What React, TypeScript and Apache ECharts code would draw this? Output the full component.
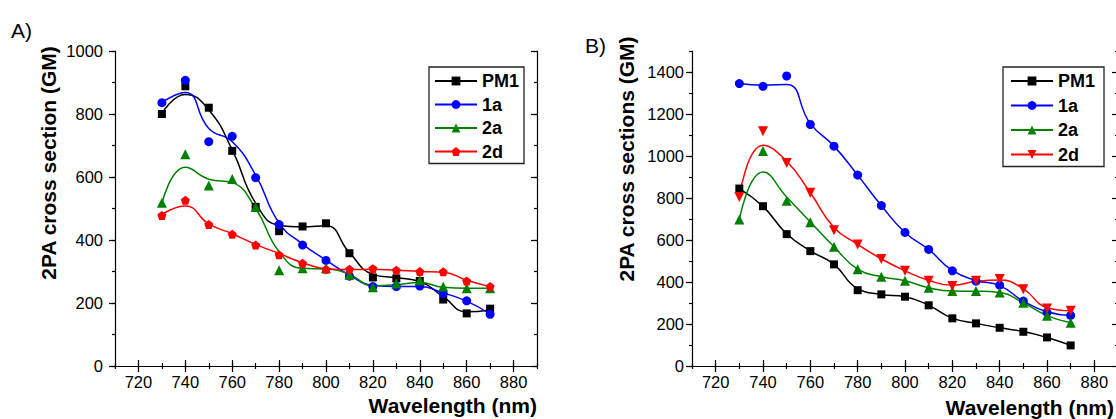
import React, { useEffect, useRef } from 'react';
import * as echarts from 'echarts';

// ---------- data ----------
const WAVELENGTHS = [730, 740, 750, 760, 770, 780, 790, 800, 810, 820, 830, 840, 850, 860, 870];
const X_MAJOR = [720, 740, 760, 780, 800, 820, 840, 860, 880];
const Y_MAJOR_A = [0, 200, 400, 600, 800, 1000];
const Y_MAJOR_B = [0, 200, 400, 600, 800, 1000, 1200, 1400];

// Panel A – measured points
const PM1_A = [800, 888, 820, 683, 505, 428, 443, 453, 358, 281, 278, 270, 211, 167, 182];
const A1_A = [836, 907, 712, 729, 598, 449, 384, 335, 285, 252, 252, 254, 230, 207, 164];
const A2_A = [518, 672, 573, 594, 505, 304, 310, 310, 290, 250, 262, 272, 252, 247, 247];
const D2_A = [478, 526, 449, 418, 384, 353, 326, 307, 307, 309, 304, 300, 299, 270, 252];
// Panel A – fitted curves
const PM1_A_FIT = [802, 862, 813, 686, 517, 447, 442, 445, 360, 291, 280, 268, 220, 172, 178];
const A1_A_FIT = [837, 868, 754, 712, 606, 454, 387, 336, 289, 256, 252, 252, 232, 206, 165];
const A2_A_FIT = [516, 631, 593, 582, 500, 363, 310, 308, 291, 255, 258, 265, 250, 247, 247];
const D2_A_FIT = [481, 508, 451, 420, 386, 357, 328, 309, 306, 307, 304, 300, 298, 272, 252];

// Panel B – measured points
const PM1_B = [845, 761, 628, 547, 484, 361, 341, 330, 289, 227, 203, 182, 163, 136, 98];
const A1_B = [1345, 1332, 1381, 1150, 1047, 909, 764, 636, 555, 453, 404, 385, 309, 255, 241];
const A2_B = [698, 1024, 787, 684, 568, 461, 425, 406, 373, 357, 357, 350, 301, 239, 206];
const D2_B = [805, 1118, 967, 825, 647, 579, 509, 453, 406, 381, 406, 414, 365, 274, 263];
// Panel B – fitted curves
const PM1_B_FIT = [845, 760, 630, 548, 484, 368, 341, 330, 289, 228, 203, 182, 164, 136, 98];
const A1_B_FIT = [1345, 1337, 1341, 1154, 1047, 909, 764, 636, 555, 455, 407, 383, 309, 258, 241];
const A2_B_FIT = [698, 924, 805, 686, 568, 461, 425, 406, 373, 357, 356, 350, 301, 240, 206];
const D2_B_FIT = [805, 1051, 975, 825, 660, 579, 510, 453, 408, 384, 403, 410, 367, 278, 263];

const NAMES = ['PM1', '1a', '2a', '2d'];

// ---------- styling ----------
const FONT = '"Liberation Sans", Arial, Helvetica, sans-serif';
const BLACK = '#000000';
const COLORS = ['#000000', '#0000ff', '#008000', '#ff0000'];
const PENTAGON = 'path://M0,-10 L9.51,-3.09 L5.88,8.09 L-5.88,8.09 L-9.51,-3.09 Z';
const DOWN_TRI = 'path://M0,0 L10,0 L5,8.66 Z';
const SYMBOLS_A = ['rect', 'circle', 'triangle', PENTAGON];
const SYMBOLS_B = ['rect', 'circle', 'triangle', DOWN_TRI];
const SIZES_A = [8, 9, 10, 9];
const SIZES_B = [8, 9, 10, 10];

const pairs = (vals: number[]) => WAVELENGTHS.map((w, i) => [w, vals[i]]);

function xAxesFor(g: number) {
  const base = { type: 'value', gridIndex: g, min: 710, max: 890, splitLine: { show: false } };
  const line = { lineStyle: { color: BLACK, width: 1.2 } };
  const tickStyle = { color: BLACK, width: 1.2 };
  return [
    {
      ...base, position: 'bottom', interval: 10, axisLine: line,
      axisTick: { inside: true, length: 3, lineStyle: tickStyle },
      axisLabel: {
        formatter: (v: number) => (X_MAJOR.indexOf(v) >= 0 ? String(v) : ''),
        color: BLACK, fontSize: 16.5, fontFamily: FONT, margin: 7,
      },
    },
    {
      ...base, position: 'bottom', axisLine: { show: false },
      axisTick: { inside: true, length: 6, customValues: X_MAJOR, lineStyle: tickStyle },
      axisLabel: { show: false },
    },
    {
      ...base, position: 'top', interval: 10, axisLine: line,
      axisTick: { inside: true, length: 3, lineStyle: tickStyle },
      axisLabel: { show: false },
    },
    {
      ...base, position: 'top', axisLine: { show: false },
      axisTick: { inside: true, length: 6, customValues: X_MAJOR, lineStyle: tickStyle },
      axisLabel: { show: false },
    },
  ];
}

function yAxesFor(g: number, max: number, majors: number[], margin: number) {
  const base = { type: 'value', gridIndex: g, min: 0, max, splitLine: { show: false } };
  const line = { lineStyle: { color: BLACK, width: 1.2 } };
  const tickStyle = { color: BLACK, width: 1.2 };
  return [
    {
      ...base, position: 'left', interval: 100, axisLine: line,
      axisTick: { inside: false, length: 3, lineStyle: tickStyle },
      axisLabel: {
        formatter: (v: number) => (majors.indexOf(v) >= 0 ? String(v) : ''),
        color: BLACK, fontSize: 16.5, fontFamily: FONT, margin,
      },
    },
    {
      ...base, position: 'left', axisLine: { show: false },
      axisTick: { inside: false, length: 6, customValues: majors, lineStyle: tickStyle },
      axisLabel: { show: false },
    },
    {
      ...base, position: 'right', interval: 100, axisLine: line,
      axisTick: { inside: true, length: 3, lineStyle: tickStyle },
      axisLabel: { show: false },
    },
    {
      ...base, position: 'right', axisLine: { show: false },
      axisTick: { inside: true, length: 6, customValues: majors, lineStyle: tickStyle },
      axisLabel: { show: false },
    },
  ];
}

function panelSeries(g: number, prefix: string, points: number[][], fits: number[][], symbols: string[], sizes: number[]) {
  const out: any[] = [];
  NAMES.forEach((n, i) => {
    const name = prefix + n;
    out.push({
      type: 'line', name, xAxisIndex: g * 4, yAxisIndex: g * 4,
      data: pairs(fits[i]), smooth: 0.5, symbol: symbols[i], symbolSize: sizes[i], showSymbol: false,
      lineStyle: { color: COLORS[i], width: 1.5 }, itemStyle: { color: COLORS[i] }, z: 2, silent: true,
    });
    out.push({
      type: 'scatter', name, xAxisIndex: g * 4, yAxisIndex: g * 4,
      data: pairs(points[i]), symbol: symbols[i], symbolSize: sizes[i],
      itemStyle: { color: COLORS[i], opacity: 1 }, z: 3, silent: true,
    });
  });
  return out;
}

function legendFor(left: number, top: number, prefix: string, gap: number, padding: number[]) {
  return {
    left, top, orient: 'vertical', itemWidth: 42, itemHeight: 11, itemGap: gap,
    padding, borderColor: '#222', borderWidth: 1.3, backgroundColor: '#fff',
    selectedMode: false,
    textStyle: { fontWeight: 'bold', fontSize: 18, color: BLACK, fontFamily: FONT },
    formatter: (name: string) => name.replace(prefix, ''),
    data: NAMES.map((n) => prefix + n),
  };
}

function text(x: number, y: number, t: string, opts: any = {}) {
  return {
    type: 'text', x, y, rotation: opts.rotation || 0, z: 10,
    style: {
      text: t, fill: BLACK,
      font: `${opts.bold ? 'bold ' : ''}${opts.size || 21}px ${FONT}`,
      align: opts.align || 'left', verticalAlign: 'middle',
      textAlign: opts.align || 'left', textVerticalAlign: 'middle',
    },
  };
}

export default function App() {
  const ref = useRef<HTMLDivElement>(null);
  useEffect(() => {
    if (!ref.current) return;
    const chart = echarts.init(ref.current, undefined, { renderer: 'svg' });
    const option: any = {
      animation: false,
      backgroundColor: '#ffffff',
      grid: [
        { left: 115, top: 51, width: 422, height: 315, containLabel: false, outerBoundsMode: 'none' },
        { left: 692, top: 51, width: 426, height: 315, containLabel: false, outerBoundsMode: 'none' },
      ],
      xAxis: [...xAxesFor(0), ...xAxesFor(1)],
      yAxis: [...yAxesFor(0, 1000, Y_MAJOR_A, 12), ...yAxesFor(1, 1500, Y_MAJOR_B, 8)],
      legend: [
        legendFor(429, 67, 'A:', 5.5, [5, 5, 3, 5]),
        legendFor(1003, 67, 'B:', 6.5, [5, 9, 3, 7]),
      ],
      series: [
        ...panelSeries(0, 'A:', [PM1_A, A1_A, A2_A, D2_A], [PM1_A_FIT, A1_A_FIT, A2_A_FIT, D2_A_FIT], SYMBOLS_A, SIZES_A),
        ...panelSeries(1, 'B:', [PM1_B, A1_B, A2_B, D2_B], [PM1_B_FIT, A1_B_FIT, A2_B_FIT, D2_B_FIT], SYMBOLS_B, SIZES_B),
      ],
      graphic: [
        text(11, 30, 'A)', { size: 21 }),
        text(585, 45, 'B)', { size: 21 }),
        text(48, 163, '2PA cross section (GM)', { bold: true, align: 'center', rotation: Math.PI / 2 }),
        text(626, 159, '2PA cross sections (GM)', { bold: true, align: 'center', rotation: Math.PI / 2 }),
        text(537, 405, 'Wavelength (nm)', { bold: true, align: 'right' }),
        text(1114, 407, 'Wavelength (nm)', { bold: true, align: 'right' }),
      ],
    };
    chart.setOption(option);
    return () => chart.dispose();
  }, []);
  return (
    <div
      ref={ref}
      style={{ position: 'absolute', left: 0, top: 0, width: 1116, height: 419, background: '#fff' }}
    />
  );
}
